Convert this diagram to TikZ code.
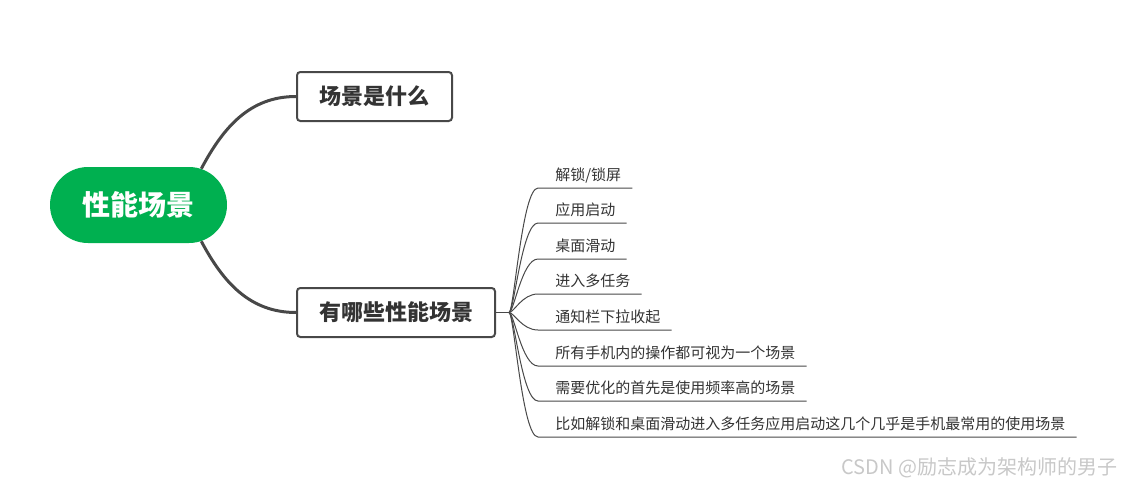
\documentclass[tikz,border=0pt]{standalone}
\usepackage{fontspec}
\setmainfont{Noto Sans CJK SC}
\usetikzlibrary{shapes.misc}
\definecolor{rootgreen}{RGB}{0,176,80}
\definecolor{inkgray}{RGB}{51,51,51}
\definecolor{edgegray}{RGB}{72,72,72}
\definecolor{markgray}{RGB}{200,200,200}

\begin{document}
\begin{tikzpicture}[x=0.75pt, y=-0.75pt,
    rootnode/.style={rounded rectangle, fill=rootgreen, text=white, inner sep=0pt,
        minimum width=132.75pt, minimum height=57pt, font=\fontsize{21}{25}\selectfont\bfseries},
    topic/.style={draw=edgegray, line width=1.5pt, rounded corners=2.5pt, text=inkgray,
        inner sep=0pt, minimum height=36.75pt, font=\fontsize{16.5}{20}\selectfont\bfseries},
    leaf/.style={anchor=base west, inner sep=0pt, text=inkgray, font=\fontsize{11.25}{13}\selectfont},
    limb/.style={draw=edgegray, line width=2.25pt},
    twig/.style={draw=edgegray, line width=0.75pt}]
    \useasboundingbox (0,0) rectangle (1127,489);

    \node[rootnode] (root) at (138.5,205) {性能场景};

    \node[topic, minimum width=116.25pt] (what) at (374.5,96.5) {场景是什么};
    \node[topic, minimum width=148.5pt] (which) at (396,312.5) {有哪些性能场景};

    \draw[limb] (root.30) to[out=62, in=180] (what.west);
    \draw[limb] (root.-30) to[out=-62, in=180] (which.west);

    \draw[twig] (which.east) -- ++(13,0) coordinate (jn);

    % leaves
    \node[leaf] (lock) at (555,180) {解锁/锁屏};
    \node[leaf] (launch) at (555,215) {应用启动};
    \node[leaf] (desk) at (555,251) {桌面滑动};
    \node[leaf] (multi) at (555,286) {进入多任务};
    \node[leaf] (notice) at (555,322) {通知栏下拉收起};
    \node[leaf] (allops) at (555,358) {所有手机内的操作都可视为一个场景};
    \node[leaf] (priority) at (555,393) {需要优化的首先是使用频率高的场景};
    \node[leaf] (sample) at (555,429) {比如解锁和桌面滑动进入多任务应用启动这几个几乎是手机最常用的使用场景};

    \coordinate (lockin) at (538,188);
    \coordinate (launchin) at (538,223);
    \coordinate (deskin) at (538,259);
    \coordinate (multiin) at (538,294);
    \coordinate (noticein) at (538,330);
    \coordinate (allopsin) at (538,366);
    \coordinate (priorityin) at (538,401);
    \coordinate (samplein) at (538,437);

    \draw[twig] (jn) .. controls +(5,0) and +(-16,0) .. (lockin) -- (lockin -| lock.east) -- ++(11,0);
    \draw[twig] (jn) .. controls +(5,0) and +(-16,0) .. (launchin) -- (launchin -| launch.east) -- ++(11,0);
    \draw[twig] (jn) .. controls +(5,0) and +(-16,0) .. (deskin) -- (deskin -| desk.east) -- ++(11,0);
    \draw[twig] (jn) .. controls +(5,0) and +(-16,0) .. (multiin) -- (multiin -| multi.east) -- ++(11,0);
    \draw[twig] (jn) .. controls +(5,0) and +(-16,0) .. (noticein) -- (noticein -| notice.east) -- ++(11,0);
    \draw[twig] (jn) .. controls +(5,0) and +(-16,0) .. (allopsin) -- (allopsin -| allops.east) -- ++(11,0);
    \draw[twig] (jn) .. controls +(5,0) and +(-16,0) .. (priorityin) -- (priorityin -| priority.east) -- ++(11,0);
    \draw[twig] (jn) .. controls +(5,0) and +(-16,0) .. (samplein) -- (samplein -| sample.east) -- ++(11,0);

    \node[anchor=east, text=markgray, font=\fontsize{15}{17}\selectfont] (mark) at (1122,468) {CSDN @励志成为架构师的男子};
\end{tikzpicture}
\end{document}
